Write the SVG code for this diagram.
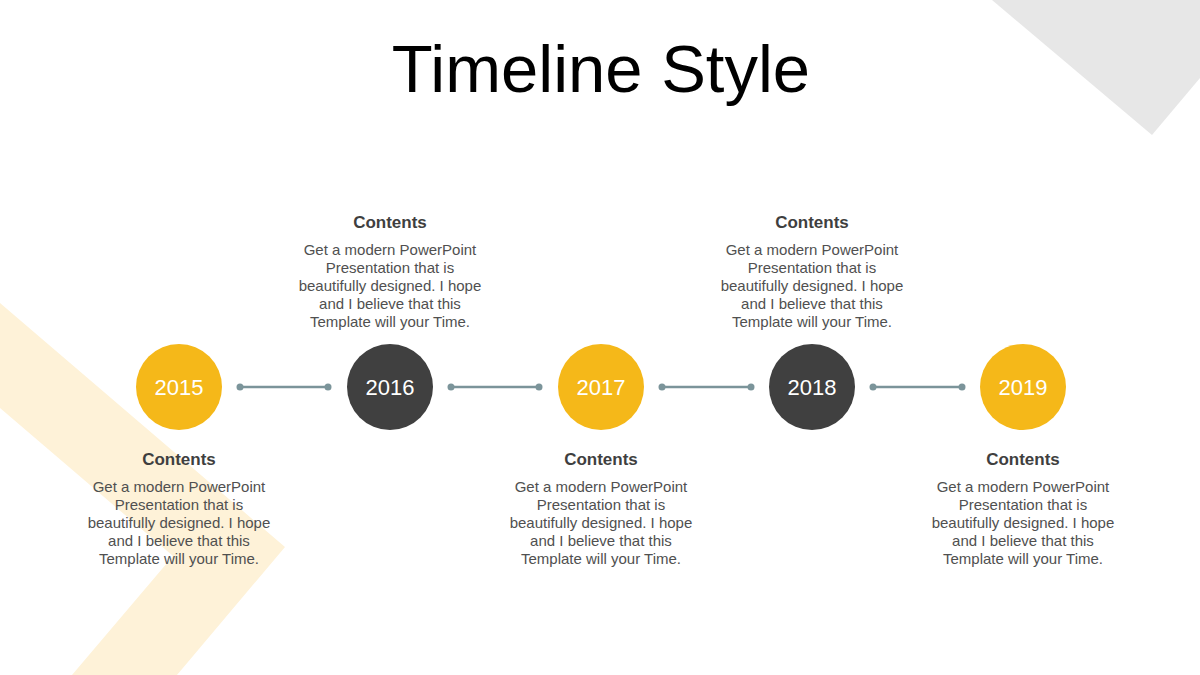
<svg xmlns="http://www.w3.org/2000/svg" width="1200" height="675" viewBox="0 0 1200 675">
<style>
.title{font-family:"Liberation Sans",Arial,sans-serif;font-size:67px;fill:#000;text-anchor:middle}
.year{font-family:"Liberation Sans",Arial,sans-serif;font-size:22px;fill:#fff;text-anchor:middle}
.head{font-family:"Liberation Sans",Arial,sans-serif;font-size:17px;font-weight:bold;fill:#3f3f3f;text-anchor:middle}
.body{font-family:"Liberation Sans",Arial,sans-serif;font-size:15px;fill:#505050;text-anchor:middle}
.yel{fill:#F5B819}
.dark{fill:#404040}
.conn{stroke:#7B949A;stroke-width:2.5;fill:none}
.dot{fill:#7B949A}
</style>
<rect width="1200" height="675" fill="#fff"/>
<g id="background">
<polygon points="992,0 1200,0 1200,78 1152,135" fill="#E7E7E7"/>
<polygon points="0,303 285,547 177,675 72,675 173,556 0,408" fill="#FEF2D8"/>
</g>
<text class="title" x="601" y="92">Timeline Style</text>
<g id="connectors">
<line class="conn" x1="240" y1="387" x2="328" y2="387"/><circle class="dot" cx="240" cy="387" r="3.5"/><circle class="dot" cx="328" cy="387" r="3.5"/>
<line class="conn" x1="451" y1="387" x2="539" y2="387"/><circle class="dot" cx="451" cy="387" r="3.5"/><circle class="dot" cx="539" cy="387" r="3.5"/>
<line class="conn" x1="662" y1="387" x2="751" y2="387"/><circle class="dot" cx="662" cy="387" r="3.5"/><circle class="dot" cx="751" cy="387" r="3.5"/>
<line class="conn" x1="873" y1="387" x2="962" y2="387"/><circle class="dot" cx="873" cy="387" r="3.5"/><circle class="dot" cx="962" cy="387" r="3.5"/>
</g>
<g id="node2015">
<circle class="yel" cx="179" cy="387" r="43"/><text class="year" x="179" y="395">2015</text>
<text class="head" x="179" y="465">Contents</text>
<text class="body" x="179" y="492">Get a modern PowerPoint</text>
<text class="body" x="179" y="510">Presentation that is</text>
<text class="body" x="179" y="528">beautifully designed. I hope</text>
<text class="body" x="179" y="546">and I believe that this</text>
<text class="body" x="179" y="564">Template will your Time.</text>
</g>
<g id="node2016">
<circle class="dark" cx="390" cy="387" r="43"/><text class="year" x="390" y="395">2016</text>
<text class="head" x="390" y="228">Contents</text>
<text class="body" x="390" y="255">Get a modern PowerPoint</text>
<text class="body" x="390" y="273">Presentation that is</text>
<text class="body" x="390" y="291">beautifully designed. I hope</text>
<text class="body" x="390" y="309">and I believe that this</text>
<text class="body" x="390" y="327">Template will your Time.</text>
</g>
<g id="node2017">
<circle class="yel" cx="601" cy="387" r="43"/><text class="year" x="601" y="395">2017</text>
<text class="head" x="601" y="465">Contents</text>
<text class="body" x="601" y="492">Get a modern PowerPoint</text>
<text class="body" x="601" y="510">Presentation that is</text>
<text class="body" x="601" y="528">beautifully designed. I hope</text>
<text class="body" x="601" y="546">and I believe that this</text>
<text class="body" x="601" y="564">Template will your Time.</text>
</g>
<g id="node2018">
<circle class="dark" cx="812" cy="387" r="43"/><text class="year" x="812" y="395">2018</text>
<text class="head" x="812" y="228">Contents</text>
<text class="body" x="812" y="255">Get a modern PowerPoint</text>
<text class="body" x="812" y="273">Presentation that is</text>
<text class="body" x="812" y="291">beautifully designed. I hope</text>
<text class="body" x="812" y="309">and I believe that this</text>
<text class="body" x="812" y="327">Template will your Time.</text>
</g>
<g id="node2019">
<circle class="yel" cx="1023" cy="387" r="43"/><text class="year" x="1023" y="395">2019</text>
<text class="head" x="1023" y="465">Contents</text>
<text class="body" x="1023" y="492">Get a modern PowerPoint</text>
<text class="body" x="1023" y="510">Presentation that is</text>
<text class="body" x="1023" y="528">beautifully designed. I hope</text>
<text class="body" x="1023" y="546">and I believe that this</text>
<text class="body" x="1023" y="564">Template will your Time.</text>
</g>
</svg>
